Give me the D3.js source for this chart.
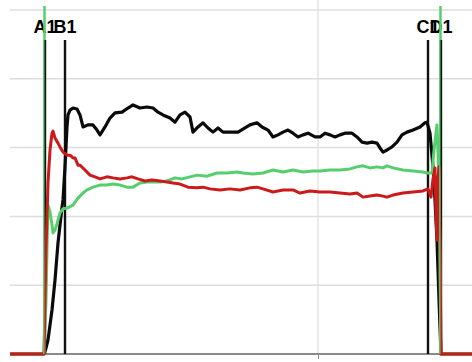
<!DOCTYPE html>
<html>
<head>
<meta charset="utf-8">
<script src="https://cdn.jsdelivr.net/npm/d3@7"></script>
<style>
  html, body { margin: 0; padding: 0; background: #fff; }
  svg { display: block; }
</style>
</head>
<body>
<svg id="chart" width="472" height="362"></svg>
<script>
// Sample index (x) and signal level (0–100) for each trace
const blackTrace = [
  [0,0],[34,0],[36,1.7],[38,4.1],[40,8.4],[42,12.8],[45,21.5],[48,32.3],[52,42.7],[53,44.8],
  [55,54.4],[57,66.0],[58,69.5],[60,70.9],[63,71.5],[67,71.2],[70,69.5],[73,66.0],[78,66.6],
  [83,66.6],[87,65.1],[90,63.7],[95,66.0],[100,68.6],[105,70.1],[112,70.3],[118,71.5],[123,72.4],
  [130,71.5],[137,71.8],[143,71.5],[148,70.3],[153,69.5],[160,68.6],[165,67.4],[170,69.5],
  [175,70.3],[180,68.9],[183,64.5],[188,66.0],[193,67.2],[198,65.7],[203,64.5],[208,65.7],
  [213,64.5],[220,64.5],[228,64.5],[235,65.7],[240,66.6],[247,67.2],[252,66.0],[258,65.1],
  [263,63.1],[268,63.7],[273,64.5],[278,65.1],[283,64.2],[288,63.1],[293,63.7],[298,64.2],
  [305,63.1],[310,63.1],[315,64.2],[320,63.7],[325,63.1],[330,63.7],[335,64.2],[342,64.2],
  [347,63.1],[352,61.6],[357,61.3],[362,61.6],[367,61.3],[370,59.9],[373,58.7],[377,59.3],
  [382,60.2],[387,61.6],[392,63.7],[397,64.5],[403,65.1],[410,66.0],[415,67.2],[417,67.4],
  [420,64.2],[423,54.4],[425,44.8],[427,33.1],[429,15.7],[431,0],[462,0]
];
const greenTrace = [
  [0,0],[34,0],[36,15.7],[37,30.2],[38,43.3],[40,41.3],[42,37.5],[43,35.2],[45,36.0],[47,37.8],
  [50,41.0],[53,42.2],[57,42.4],[63,43.3],[68,45.3],[73,46.8],[77,47.7],[83,48.5],[90,49.1],
  [97,49.1],[103,49.4],[110,49.1],[117,48.5],[123,48.5],[130,49.7],[137,50.0],[143,50.0],
  [150,50.0],[157,50.3],[165,51.2],[172,50.9],[180,51.5],[187,52.0],[197,51.7],[207,52.6],
  [217,52.6],[227,52.9],[233,52.6],[243,52.3],[253,52.6],[263,53.5],[273,52.9],[283,53.5],
  [293,52.9],[303,53.2],[310,53.2],[320,53.5],[330,53.5],[340,53.8],[347,54.4],[353,54.7],
  [360,54.1],[367,54.4],[373,54.1],[377,54.7],[383,54.1],[393,53.5],[403,53.2],[413,52.9],
  [417,52.6],[422,52.6],[424,59.3],[427,66.6],[429,50.6],[431,0],[462,0]
];
const redTrace = [
  [0,0],[34,0],[35,15.7],[36,31.1],[37,39.8],[38,49.7],[40,59.3],[42,64.2],[43,64.8],[45,62.8],
  [48,61.3],[50,60.2],[53,58.7],[57,57.8],[60,57.8],[63,57.0],[65,57.0],[68,54.9],[70,54.9],
  [75,53.5],[80,52.0],[85,51.5],[90,50.9],[97,51.5],[103,51.2],[110,50.9],[117,51.2],[122,51.5],
  [128,50.9],[135,50.3],[142,50.6],[150,50.3],[157,50.0],[163,49.7],[170,49.4],[178,48.5],
  [187,48.3],[193,48.5],[200,48.0],[210,47.7],[220,48.0],[230,47.7],[240,48.3],[247,48.5],
  [253,48.0],[263,47.1],[273,47.7],[283,47.7],[290,46.8],[300,47.4],[310,47.1],[320,47.1],
  [330,46.8],[340,46.5],[347,46.8],[353,45.6],[360,45.9],[367,46.2],[373,45.9],[377,45.6],
  [383,46.2],[393,46.8],[403,47.1],[413,47.4],[418,48.0],[421,45.6],[423,50.9],[425,54.1],
  [426,40.1],[427,33.1],[428,50.9],[429,54.4],[430,30.2],[431,0],[462,0]
];

// Event markers: label, sample index, whether a green guide accompanies it
const markerNames = ["A1", "B1", "C1", "D1"];
const markerPos   = [35, 55, 418, 431];
const markerGreen = [true, false, false, true];

const yGridValues = [0, 20, 40, 60, 80, 100];
const xGridValues = [308];

const svg = d3.select("#chart");
const plotLeft = 10, plotRight = 472, plotTop = 10, plotBottom = 354;

const x = d3.scaleLinear().domain([0, 462]).range([plotLeft, plotRight]);
const y = d3.scaleLinear().domain([0, 100]).range([plotBottom, plotTop]);

// Gridlines
svg.append("g")
  .selectAll("line")
  .data(yGridValues.filter(v => v > 0))
  .join("line")
  .attr("x1", plotLeft).attr("x2", plotRight)
  .attr("y1", d => y(d)).attr("y2", d => y(d))
  .attr("stroke", "#dedede").attr("stroke-width", 1.5);

svg.append("g")
  .selectAll("line")
  .data(xGridValues)
  .join("line")
  .attr("x1", d => x(d)).attr("x2", d => x(d))
  .attr("y1", 0).attr("y2", plotBottom)
  .attr("stroke", "#dedede").attr("stroke-width", 1.2);

// Bottom axis
const xAxis = d3.axisBottom(x).tickValues(xGridValues).tickSize(5).tickFormat("");
const axisG = svg.append("g").attr("transform", `translate(0,${plotBottom})`).call(xAxis);
axisG.select(".domain").attr("stroke", "#8a8a8a").attr("stroke-width", 2).attr("d", `M${plotLeft},0H${plotRight}`);
axisG.selectAll(".tick line").attr("stroke", "#8a8a8a").attr("stroke-width", 1);

// Black marker lines (below the labels)
svg.append("g")
  .selectAll("line")
  .data(markerPos)
  .join("line")
  .attr("x1", d => x(d)).attr("x2", d => x(d))
  .attr("y1", 40).attr("y2", plotBottom)
  .attr("stroke", "#111").attr("stroke-width", 2.4);

// Traces
const line = d3.line().x(d => x(d[0])).y(d => y(d[1]));
const traces = [
  { data: blackTrace, color: "#0a0a0a", w: 3.2 },
  { data: greenTrace, color: "#55cf6e", w: 3.0 },
  { data: redTrace,   color: "#cc1a1a", w: 3.0 }
];
svg.append("g")
  .selectAll("path")
  .data(traces)
  .join("path")
  .attr("d", d => line(d.data))
  .attr("fill", "none")
  .attr("stroke", d => d.color)
  .attr("stroke-width", d => d.w)
  .attr("stroke-linejoin", "round");

// Marker labels
svg.append("g")
  .selectAll("text")
  .data(markerNames)
  .join("text")
  .attr("x", (d, i) => x(markerPos[i]))
  .attr("y", 33)
  .attr("text-anchor", "middle")
  .attr("font-family", "'Liberation Sans', Arial, sans-serif")
  .attr("font-weight", "bold")
  .attr("font-size", 18)
  .attr("fill", "#000")
  .text(d => d);

// Green guide lines on top
const greenPos = markerPos.filter((d, i) => markerGreen[i]);
svg.append("g")
  .selectAll("line")
  .data(greenPos)
  .join("line")
  .attr("x1", d => x(d) - 0.5).attr("x2", d => x(d) - 0.5)
  .attr("y1", 6).attr("y2", 40)
  .attr("stroke", "#55cf6e").attr("stroke-width", 2.5);
svg.append("g")
  .selectAll("line")
  .data(greenPos)
  .join("line")
  .attr("x1", d => x(d) - 1.2).attr("x2", d => x(d) - 1.2)
  .attr("y1", 40).attr("y2", plotBottom)
  .attr("stroke", "#55cf6e").attr("stroke-width", 1.4);
</script>
</body>
</html>
